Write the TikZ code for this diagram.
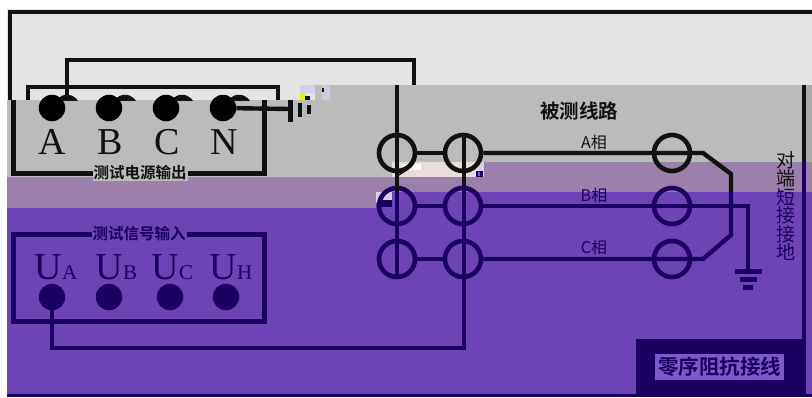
\documentclass[tikz,border=0pt]{standalone}
\usepackage{fontspec}
\setmainfont{Liberation Serif}
\newfontfamily\cjk{Noto Sans CJK SC}[BoldFont={Noto Sans CJK SC Bold}]
\definecolor{lgrey}{HTML}{E4E4E4}
\definecolor{mgrey}{HTML}{B9BCBB}
\definecolor{rgrey}{HTML}{A9ABAA}
\definecolor{mauve}{HTML}{9A80AB}
\definecolor{purp}{HTML}{6C44B6}
\definecolor{navy}{HTML}{1A0060}
\definecolor{wblack}{HTML}{111111}
\definecolor{lav}{HTML}{D8CFF0}
\definecolor{pinkp}{HTML}{EADCD8}
\definecolor{lab}{HTML}{7D59CE}
\tikzset{
  x=1pt,y=-1pt,
  wire/.style={line width=4.4pt,line cap=butt,line join=miter},
  box/.style={line width=5pt,line join=miter},
  ct/.style={circle,draw,line width=4.6pt,minimum size=36pt,inner sep=0pt},
  dot/.style={circle,fill,minimum size=26.5pt,inner sep=0pt},
  head/.style={font=\cjk\bfseries\fontsize{15.5}{15.5}\selectfont,inner sep=1pt},
  phase/.style={font=\cjk\fontsize{16}{16}\selectfont,inner sep=0pt},
  vlab/.style={font=\cjk\fontsize{19}{19}\selectfont,inner sep=0pt},
  big/.style={font=\fontsize{38}{38}\selectfont,inner sep=0pt,anchor=base},
  sub/.style={font=\fontsize{21}{21}\selectfont,inner sep=0pt,anchor=base west},
}
\begin{document}
\begin{tikzpicture}
\useasboundingbox (0,0) rectangle (812,397);
\fill[white] (0,0) rectangle (812,397);
% colour bands
\fill[lgrey] (7,9) rectangle (812,100);
\fill[mgrey] (7,100) rectangle (300,177);
\fill[mgrey] (315,85) rectangle (812,162);
\fill[mgrey] (300,100) rectangle (395,177);
\fill[mauve] (7,177) rectangle (400,208);
\fill[mauve] (392,162) rectangle (812,192);
\fill[purp] (7,208) rectangle (812,397);
\fill[purp] (376,192) rectangle (812,208);
\fill[rgrey] (806,85) rectangle (812,162);
\fill[pinkp] (392,162) rectangle (478,177);
\fill[lav] (478,162) rectangle (484,177);
% image artefacts
\fill[lav] (300,85) rectangle (315,93);
\fill[lav!70!mgrey] (322,85) rectangle (330,100);
\fill[yellow!70!lime] (300,93) rectangle (306,100);
\fill[lgrey] (306,93) rectangle (315,100);
\fill[wblack] (305,96) rectangle (310,100);
\fill[wblack] (322,88) rectangle (324,92);
\fill[lav] (376,192) rectangle (392,203);
\fill[white] (402,164) rectangle (421,170);
\fill[navy] (378,200) rectangle (392,207);
\fill[navy] (476,171) rectangle (483,177);
\fill[lab] (478,172) rectangle (480,176);
\draw[wblack,line width=1.5pt] (399,175) -- (412,166);
\fill[navy] (636,339) rectangle (806,397);
\fill[navy] (7,394) rectangle (812,397);
\fill[lab] (655,354) rectangle (784,380);
% upper part of the displaced instrument
\begin{scope}
\clip (7,9) rectangle (300,100);
\node[dot,wblack] (ba) at (67,108) {};
\node[dot,wblack] (bb) at (125,108) {};
\node[dot,wblack] (bc) at (182,108) {};
\node[dot,wblack] (bn) at (239,108) {};
\draw[wire,wblack] (28,100) -- (28,87) -- (278,87) -- (278,100);
\end{scope}
\coordinate (o1) at (10,100);
\coordinate (o2) at (10,12);
\coordinate (o3) at (812,12);
\draw[wire,wblack] (o1) -- (o2) -- (o3);
\coordinate (topl) at (414,85);
\draw[wire,wblack] (ba.north) -- (67,60) -- (414,60) -- (topl);
\node[dot,text=wblack,fill=black] (a) at (52,108) {};
\node[dot,fill=black] (b) at (109,108) {};
\node[dot,fill=black] (c) at (166,108) {};
\node[dot,fill=black] (n) at (223,108) {};
\draw[box,wblack] (264,100) -- (264,173) -- (13,173) -- (13,100);
\node[head,fill=mgrey,text=wblack] (h1) at (140,173) {测试电源输出};
\node[big,text=wblack] (la) at (52,154) {A};
\node[big,text=wblack] (lb) at (110,154) {B};
\node[big,text=wblack] (lc) at (167,154) {C};
\node[big,text=wblack] (ln) at (224,154) {N};
% battery
\coordinate (bat1) at (290,109);
\draw[wire,wblack] (n) -- (bat1);
\fill[wblack] (288,100) rectangle (293,122);
\fill[wblack] (298,103) rectangle (302,117);
\fill[wblack] (307,105) rectangle (311,114);
% current transformers
\node[ct,draw=wblack] (p1) at (397,153) {};
\node[ct,draw=wblack] (p2) at (463,153) {};
\node[ct,draw=wblack] (p3) at (672,153) {};
\node[ct,draw=navy] (q1) at (397,206) {};
\node[ct,draw=navy] (q2) at (463,206) {};
\node[ct,draw=navy] (q3) at (672,206) {};
\node[ct,draw=navy] (r1) at (397,259) {};
\node[ct,draw=navy] (r2) at (463,259) {};
\node[ct,draw=navy] (r3) at (672,259) {};
% phase wires
\draw[wire,wblack] (p1) -- (p2);
\draw[wire,wblack] (p2) -- (703,153) -- (731,174) -- (731,192);
\draw[wire,navy] (731,192) -- (731,235) -- (703,259) -- (r2);
\draw[wire,navy] (q1) -- (q2);
\draw[wire,navy] (r1) -- (r2);
\coordinate (gnd) at (748,270);
\draw[wire,navy] (q2) -- (748,206) -- (gnd);
% verticals
\draw[wire,wblack] (397,85) -- (397,192);
\draw[wire,navy] (397,192) -- (397,279);
\draw[wire,wblack] (464,134) -- (464,186);
\draw[wire,navy] (464,186) -- (464,348) -- (52,348) -- (52,300);
% ground
\fill[navy] (735,269) rectangle (762,274);
\fill[navy] (740,277) rectangle (757,282);
\fill[navy] (743,285) rectangle (753,290);
% right rail
\draw[wblack,line width=3.6pt] (804,85) -- (804,162);
\draw[navy,line width=3.6pt] (804,162) -- (804,340);
% signal instrument
\draw[box,navy] (13,234) rectangle (264,321);
\node[head,fill=purp,text=navy] (h2) at (139,234) {测试信号输入};
\node[dot,fill=navy] (ua) at (52,297) {};
\node[dot,fill=navy] (ub) at (109,297) {};
\node[dot,fill=navy] (uc) at (170,297) {};
\node[dot,fill=navy] (uh) at (226,297) {};
\node[big,text=navy] (t1) at (48,279) {U};
\node[sub,text=navy] (s1) at (t1.base east) {A};
\node[big,text=navy] (t2) at (109,279) {U};
\node[sub,text=navy] (s2) at (t2.base east) {B};
\node[big,text=navy] (t3) at (165,279) {U};
\node[sub,text=navy] (s3) at (t3.base east) {C};
\node[big,text=navy] (t4) at (223,279) {U};
\node[sub,text=navy] (s4) at (t4.base east) {H};
% labels
\node[font=\cjk\bfseries\fontsize{19.5}{19.5}\selectfont,inner sep=0pt,text=wblack] (title) at (579,111) {被测线路};
\node[phase,text=wblack] (pa) at (594,142) {A相};
\node[phase,text=navy] (pb) at (594,195) {B相};
\node[phase,text=navy] (pc) at (594,247) {C相};
\node[vlab,text=wblack] (v1) at (786,160) {对};
\node[vlab,text=wblack] (v2) at (786,178.5) {端};
\node[vlab,text=navy] (v3) at (786,197) {短};
\node[vlab,text=navy] (v4) at (786,215.5) {接};
\node[vlab,text=navy] (v5) at (786,234) {接};
\node[vlab,text=navy] (v6) at (786,252.5) {地};
\node[font=\cjk\bfseries\fontsize{20.5}{20.5}\selectfont,inner sep=0pt,text=navy] (cap) at (719.5,367) {零序阻抗接线};
\end{tikzpicture}
\end{document}
